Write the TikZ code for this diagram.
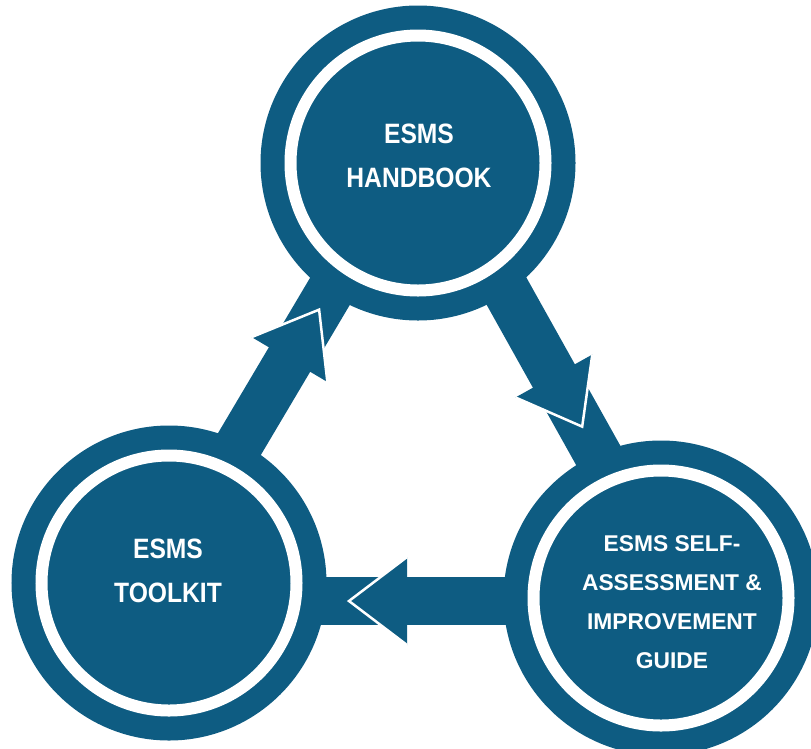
\documentclass[tikz,border=0pt]{standalone}
\usepackage{fontspec}
\setmainfont{Liberation Sans}
\newfontfamily\narrowsans{Liberation Sans}[FakeStretch=0.88]
\usetikzlibrary{calc,backgrounds}
\definecolor{esmsblue}{RGB}{14,92,130}
\tikzset{
  ring/.style={circle, inner sep=0pt, minimum size=255pt, fill=esmsblue,
    draw=esmsblue, line width=24pt, double=white, double distance=12pt},
  bar/.style={esmsblue, line width=48pt},
  ringtext/.style={text=white, align=center, inner sep=0pt,
    font=\narrowsans\bfseries\fontsize{28}{44}\selectfont},
  smalltext/.style={text=white, align=center, inner sep=0pt,
    font=\bfseries\fontsize{22.8}{39}\selectfont},
  tipedge/.style={white, line width=2.5pt},
}
\begin{document}
\begin{tikzpicture}[x=1pt, y=-1pt]
  \useasboundingbox (0,0) rectangle (811,748);
  \node[ring] (hb) at (418,163) {};
  \node[ring] (tk) at (169,583) {};
  \node[ring] (sa) at (661,598) {};
  \node[ringtext] (hbtext) at (419,156) {ESMS\\HANDBOOK};
  \node[ringtext] (tktext) at (168,571) {ESMS\\TOOLKIT};
  \node[smalltext] (satext) at (672,602) {ESMS SELF-\\ASSESSMENT \&\\IMPROVEMENT\\GUIDE};
  % bar ends, a little outside the centre lines
  \coordinate (tka) at ([shift={(-9,-5)}]tk.center);
  \coordinate (hba) at ([shift={(-9,-5)}]hb.center);
  \coordinate (hbc) at ([shift={(13,-7)}]hb.center);
  \coordinate (sac) at ([shift={(13,-7)}]sa.center);
  \coordinate (sad) at ([shift={(0,3)}]sa.center);
  \coordinate (tkd) at (sad -| tk.center);
  \begin{scope}[on background layer]
    \draw[bar] (tka) -- (hba);
    \draw[bar] (hbc) -- (sac);
    \draw[bar] (sad) -- (tkd);
  \end{scope}
  % arrow heads
  \path ($(tka)!254pt!(hba)$) coordinate (tkb)
        ($(tka)!312pt!(hba)$) coordinate (tkt);
  \path ($(tkb)!44pt!90:(tkt)$) coordinate (tkl)
        ($(tkb)!44pt!-90:(tkt)$) coordinate (tkr);
  \fill[esmsblue] (tkl) -- (tkt) -- (tkr) -- cycle;
  \draw[tipedge] (tkl) -- (tkt) -- (tkr);
  \path ($(hbc)!252pt!(sac)$) coordinate (hbb)
        ($(hbc)!310pt!(sac)$) coordinate (hbt);
  \path ($(hbb)!44pt!90:(hbt)$) coordinate (hbl)
        ($(hbb)!44pt!-90:(hbt)$) coordinate (hbr);
  \fill[esmsblue] (hbl) -- (hbt) -- (hbr) -- cycle;
  \draw[tipedge] (hbl) -- (hbt) -- (hbr);
  \path ($(sad)!254pt!(tkd)$) coordinate (sab)
        ($(sad)!312pt!(tkd)$) coordinate (sat);
  \path ($(sab)!44pt!90:(sat)$) coordinate (sal)
        ($(sab)!44pt!-90:(sat)$) coordinate (sar);
  \fill[esmsblue] (sal) -- (sat) -- (sar) -- cycle;
  \draw[tipedge] (sal) -- (sat) -- (sar);
\end{tikzpicture}
\end{document}
